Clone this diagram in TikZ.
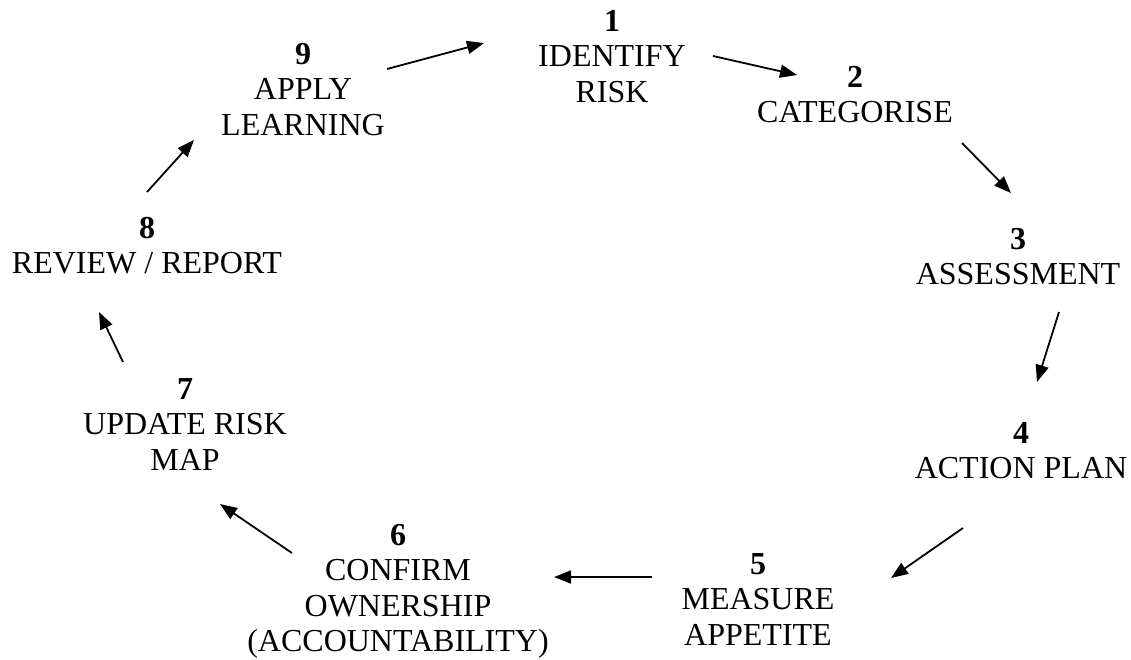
\documentclass[tikz,border=0pt]{standalone}
\usepackage{fontspec}
\setmainfont{Liberation Serif}
\usetikzlibrary{arrows.meta}

\tikzset{
  stage/.style={align=center, anchor=north, inner sep=0pt,
    font=\fontsize{32}{35.5}\selectfont},
  flow/.style={line width=1.8pt, -{Triangle[length=17pt,width=13pt]}}
}

\begin{document}
\begin{tikzpicture}[x=1pt,y=-1pt]
\useasboundingbox (0,0) rectangle (1131,659);

% the nine stages
\node[stage] (s1) at (612,10)  {\textbf{1}\\IDENTIFY\\RISK};
\node[stage] (s2) at (855,66)  {\textbf{2}\\CATEGORISE};
\node[stage] (s3) at (1018,228) {\textbf{3}\\ASSESSMENT};
\node[stage] (s4) at (1021,422) {\textbf{4}\\ACTION PLAN};
\node[stage] (s5) at (758,553) {\textbf{5}\\MEASURE\\APPETITE};
\node[stage] (s6) at (398,524) {\textbf{6}\\CONFIRM\\OWNERSHIP\\(ACCOUNTABILITY)};
\node[stage] (s7) at (185,378) {\textbf{7}\\UPDATE RISK\\MAP};
\node[stage] (s8) at (147,217) {\textbf{8}\\REVIEW / REPORT};
\node[stage] (s9) at (303,43)  {\textbf{9}\\APPLY\\LEARNING};

% arrow ends
\coordinate (a12) at (713,56);   \coordinate (b12) at (797,75);
\coordinate (a23) at (962,143);  \coordinate (b23) at (1011,193);
\coordinate (a34) at (1059,312); \coordinate (b34) at (1037,382);
\coordinate (a45) at (963,528);  \coordinate (b45) at (891,578);
\coordinate (a56) at (652,577);  \coordinate (b56) at (554,577);
\coordinate (a67) at (292,553);  \coordinate (b67) at (220,504);
\coordinate (a78) at (123,362);  \coordinate (b78) at (99,312);
\coordinate (a89) at (147,192);  \coordinate (b89) at (194,140);
\coordinate (a91) at (387,69);   \coordinate (b91) at (484,43);

\foreach \i in {12,23,34,45,56,67,78,89,91}
  \draw[flow] (a\i) -- (b\i);
\end{tikzpicture}
\end{document}
